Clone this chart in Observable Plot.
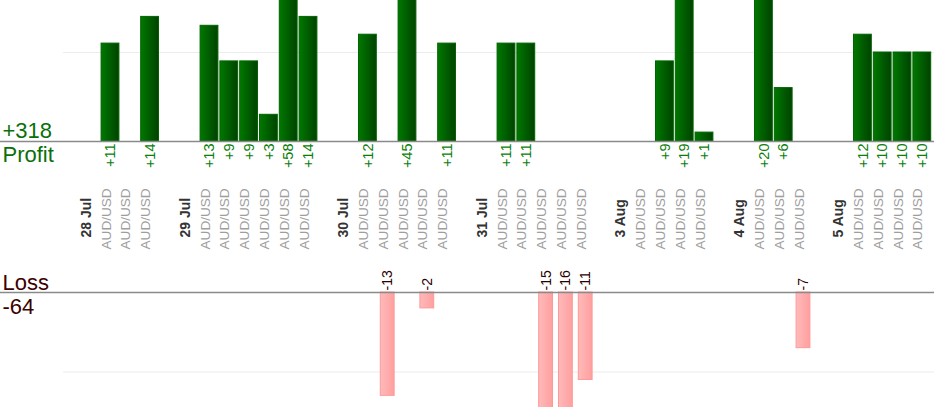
<!DOCTYPE html>
<html>
<head>
<meta charset="utf-8">
<script src="https://cdn.jsdelivr.net/npm/d3@7"></script>
<script src="https://cdn.jsdelivr.net/npm/@observablehq/plot@0.6"></script>
<style>
  html, body { margin: 0; padding: 0; background: #fff; }
  #chart svg { display: block; }
</style>
</head>
<body>
<div id="chart"></div>
<script>
// ---- data ----
const days = ["28 Jul", "29 Jul", "30 Jul", "31 Jul", "3 Aug", "4 Aug", "5 Aug"];
const tradeDay = [0,0,0, 1,1,1,1,1,1, 2,2,2,2,2, 3,3,3,3,3, 4,4,4,4, 5,5,5, 6,6,6,6];
const tradePair = ["AUD/USD","AUD/USD","AUD/USD",
  "AUD/USD","AUD/USD","AUD/USD","AUD/USD","AUD/USD","AUD/USD",
  "AUD/USD","AUD/USD","AUD/USD","AUD/USD","AUD/USD",
  "AUD/USD","AUD/USD","AUD/USD","AUD/USD","AUD/USD",
  "AUD/USD","AUD/USD","AUD/USD","AUD/USD",
  "AUD/USD","AUD/USD","AUD/USD",
  "AUD/USD","AUD/USD","AUD/USD","AUD/USD"];
const tradeResult = [11, 0, 14,
  13, 9, 9, 3, 58, 14,
  12, -13, 45, -2, 11,
  11, 11, -15, -16, -11,
  0, 9, 19, 1,
  20, 6, -7,
  12, 10, 10, 10];

// ---- build slot table (date label slot, trade slots, gap slot) ----
const dateRows = [];
const tradeRows = [];
let slotCount = 0;
days.forEach((day, d) => {
  dateRows.push({slot: slotCount, label: day});
  slotCount++;
  tradeDay.forEach((td, i) => {
    if (td === d) { tradeRows.push({slot: slotCount, pair: tradePair[i], value: tradeResult[i]}); slotCount++; }
  });
  if (d < days.length - 1) slotCount++;
});
const slots = d3.range(slotCount);
const profits = tradeRows.filter(r => r.value > 0);
const losses = tradeRows.filter(r => r.value < 0);
const totalProfit = d3.sum(profits, r => r.value);
const totalLoss = d3.sum(losses, r => r.value);

const font = "'Liberation Sans', Arial, sans-serif";
const xScale = {type: "band", domain: slots, range: [80.3, 931.7], paddingInner: 0.1, paddingOuter: 0.05, axis: null};

function gradient(id, c1, c2) {
  return () => {
    const defs = d3.create("svg:defs");
    const g = defs.append("linearGradient").attr("id", id)
      .attr("x1", "0").attr("x2", "1").attr("y1", "0").attr("y2", "0");
    g.append("stop").attr("offset", "0%").attr("stop-color", c1);
    g.append("stop").attr("offset", "100%").attr("stop-color", c2);
    return defs.node();
  };
}

const profitChart = Plot.plot({
  width: 934, height: 260,
  marginTop: 0, marginRight: 0, marginBottom: 0, marginLeft: 0,
  style: {fontFamily: font, background: "#fff", overflow: "visible"},
  x: xScale,
  y: {domain: [0, 10], range: [141, 52], axis: null},
  marks: [
    gradient("gProfit", "#007800", "#004300"),
    Plot.ruleY([10], {stroke: "#ececec", strokeWidth: 1, insetLeft: 63}),
    Plot.rectY(profits, {x: "slot", y1: 0, y2: "value", fill: "url(#gProfit)", stroke: "#006400", strokeWidth: 1, clip: true}),
    Plot.ruleY([0], {stroke: "#8a8a8a", strokeWidth: 1.5}),
    Plot.text(profits, {x: "slot", y: () => 0, text: r => "+" + r.value, rotate: -90, textAnchor: "end", dy: 2, fill: "#0a800a", fontSize: 14.5}),
    Plot.text(tradeRows, {x: "slot", frameAnchor: "bottom", text: "pair", rotate: -90, textAnchor: "start", dy: -11, fill: "#9e9e9e", fontSize: 13.6}),
    Plot.text(dateRows, {x: "slot", frameAnchor: "bottom", text: "label", rotate: -90, textAnchor: "start", dy: -23, fill: "#333", fontWeight: "bold", fontSize: 14}),
    Plot.text(["+" + totalProfit], {y: () => 0, frameAnchor: "left", text: d => d, textAnchor: "start", lineAnchor: "bottom", dx: 2, dy: -4, fill: "#0a700a", fontSize: 22}),
    Plot.text(["Profit"], {y: () => 0, frameAnchor: "left", text: d => d, textAnchor: "start", lineAnchor: "top", dx: 2, dy: 5, fill: "#0a700a", fontSize: 22})
  ]
});

const lossChart = Plot.plot({
  width: 934, height: 160,
  marginTop: 0, marginRight: 0, marginBottom: 13, marginLeft: 0,
  style: {fontFamily: font, background: "#fff", overflow: "visible"},
  x: xScale,
  y: {domain: [0, -10], range: [32, 111.5], axis: null},
  marks: [
    gradient("gLoss", "#ffbaba", "#ff9f9f"),
    Plot.ruleY([-10], {stroke: "#ececec", strokeWidth: 1, insetLeft: 63}),
    Plot.rectY(losses, {x: "slot", y1: 0, y2: "value", fill: "url(#gLoss)", stroke: "#ff9898", strokeWidth: 1, insetLeft: 2, insetRight: 2, clip: true}),
    Plot.ruleY([0], {stroke: "#8a8a8a", strokeWidth: 1.5}),
    Plot.text(losses, {x: "slot", y: () => 0, text: r => String(r.value), rotate: -90, textAnchor: "start", dy: -2, fill: "#2a0000", fontSize: 14}),
    Plot.text(["Loss"], {y: () => 0, frameAnchor: "left", text: d => d, textAnchor: "start", lineAnchor: "bottom", dx: 2, dy: -3, fill: "#3c0000", fontSize: 22}),
    Plot.text([String(totalLoss)], {y: () => 0, frameAnchor: "left", text: d => d, textAnchor: "start", lineAnchor: "top", dx: 2, dy: 6, fill: "#3c0000", fontSize: 22})
  ]
});

const chart = document.getElementById("chart");
chart.appendChild(profitChart);
chart.appendChild(lossChart);
</script>
</body>
</html>
